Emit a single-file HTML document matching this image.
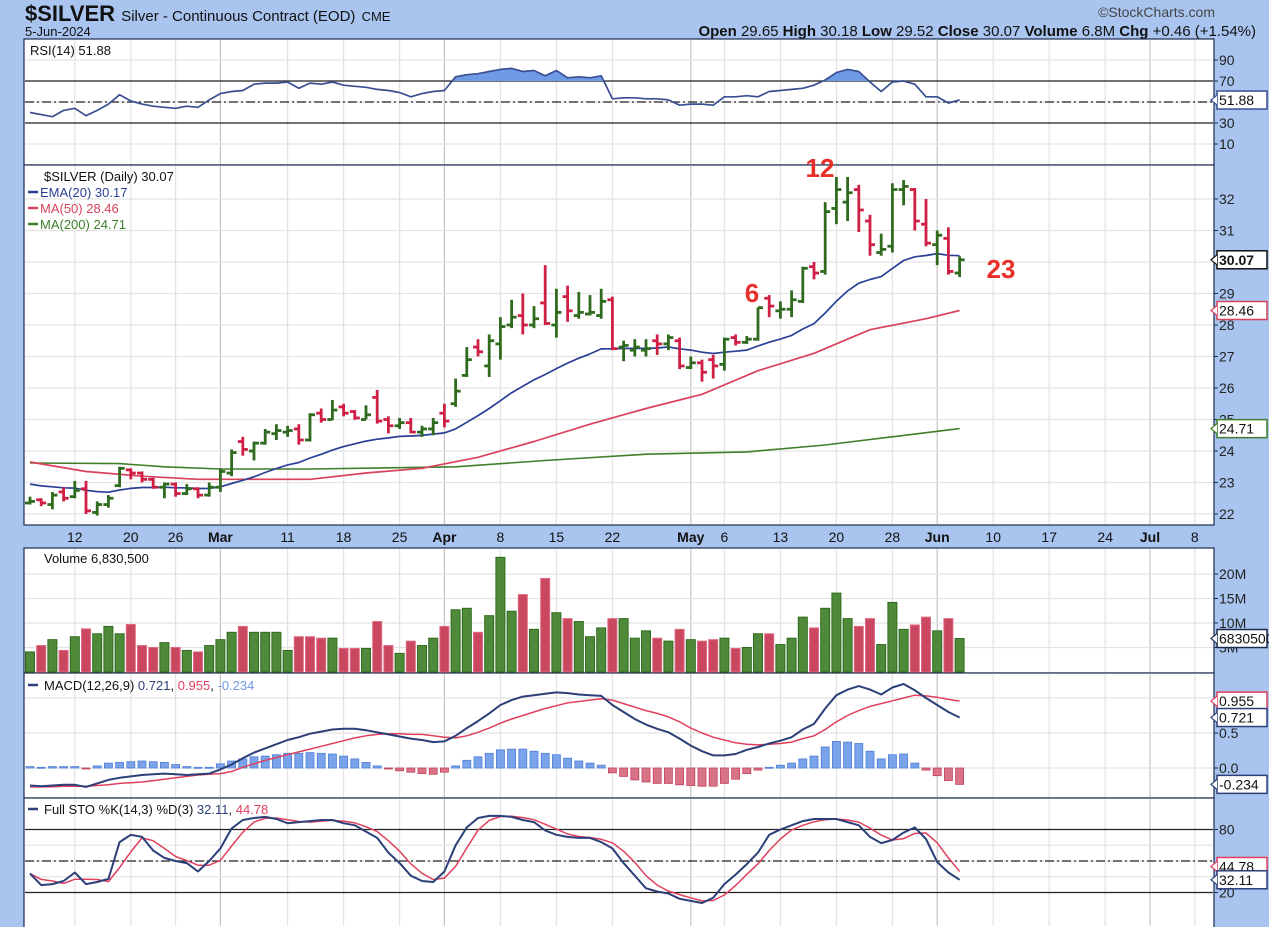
<!DOCTYPE html>
<html><head><meta charset="utf-8">
<style>
html,body{margin:0;padding:0;background:#a9c5ef;}
svg{display:block;font-family:"Liberation Sans",sans-serif;}
</style></head>
<body>
<svg id="chart" width="1269" height="927" viewBox="0 0 1269 927" xmlns="http://www.w3.org/2000/svg">
<rect x="0" y="0" width="1269" height="927" fill="#a9c5ef"/>
<text x="25" y="21" font-size="22" font-weight="bold" fill="#111">$SILVER <tspan font-size="15" font-weight="normal">Silver - Continuous Contract (EOD)</tspan> <tspan font-size="13" font-weight="normal">CME</tspan></text>
<text x="25" y="36" font-size="13" fill="#111">5-Jun-2024</text>
<text x="1215" y="17" font-size="14" fill="#444" text-anchor="end">©StockCharts.com</text>
<text x="1256" y="36" font-size="15" fill="#111" text-anchor="end"><tspan font-weight="bold">Open</tspan> 29.65  <tspan font-weight="bold">High</tspan> 30.18  <tspan font-weight="bold">Low</tspan> 29.52  <tspan font-weight="bold">Close</tspan> 30.07  <tspan font-weight="bold">Volume</tspan> 6.8M  <tspan font-weight="bold">Chg</tspan> +0.46 (+1.54%)</text>
<g id="panels"></g>
</svg>
<script>
// ---------- DATA ----------
const opens=[22.35,22.45,22.3,22.7,22.55,22.8,22.05,22.3,22.9,23.4,23.3,23.1,22.85,22.95,22.65,22.8,22.6,22.85,23.3,24.3,24.0,24.25,24.55,24.6,24.7,24.35,25.2,25.0,25.4,25.25,25.0,25.7,25.0,24.8,24.9,24.6,24.7,25.2,25.5,26.4,27.3,26.7,27.4,28.0,28.3,28.0,28.7,28.0,28.9,28.3,28.35,28.3,28.8,27.3,27.2,27.2,27.5,27.4,27.5,26.65,26.8,26.9,26.75,27.6,27.45,27.55,28.85,28.45,28.5,28.75,29.85,29.7,31.7,31.9,32.3,31.3,30.3,30.5,32.3,32.3,31.2,30.55,30.75,29.65];
const highs=[22.55,22.5,22.7,22.85,23.05,23.05,22.4,22.6,23.5,23.45,23.35,23.15,23.0,23.0,22.95,22.85,23.0,23.45,24.05,24.45,24.3,24.7,24.85,24.8,24.85,25.2,25.35,25.62,25.5,25.3,25.45,25.94,25.1,25.05,25.05,24.8,25.05,25.5,26.3,27.3,27.55,27.7,28.25,28.8,29.0,28.6,29.9,29.15,29.25,29.05,28.95,29.15,28.9,27.5,27.55,27.55,27.7,27.7,27.6,27.0,26.9,27.05,27.6,27.7,27.65,28.55,28.95,28.75,29.1,29.85,30.0,31.9,32.7,32.7,32.45,31.5,30.9,32.5,32.6,32.35,32.0,31.0,31.1,30.18];
const lows=[22.3,22.25,22.15,22.4,22.5,22.0,21.95,22.2,22.85,23.1,23.0,22.8,22.5,22.55,22.6,22.5,22.55,22.7,23.2,23.85,23.7,24.2,24.35,24.45,24.2,24.3,24.9,24.98,25.1,24.99,25.0,24.87,24.56,24.7,24.56,24.45,24.5,24.75,25.4,26.35,27.0,26.35,26.9,27.9,27.7,27.9,28.0,27.6,28.1,28.2,28.3,28.2,27.2,26.85,27.0,27.0,27.05,27.2,26.6,26.6,26.2,26.3,26.55,27.35,27.4,27.5,28.25,28.2,28.25,28.7,29.45,29.6,31.2,31.3,30.95,30.2,30.2,30.3,31.8,31.0,30.5,29.9,29.6,29.52];
const closes=[22.4,22.35,22.6,22.5,22.75,22.1,22.3,22.5,23.45,23.3,23.1,22.85,22.95,22.65,22.8,22.6,22.85,23.35,23.95,24.05,24.25,24.6,24.65,24.65,24.35,25.15,25.0,25.3,25.2,25.05,25.15,24.95,24.8,24.9,24.6,24.7,24.9,24.95,25.9,26.9,27.15,27.5,27.95,28.25,28.0,28.2,28.05,28.4,28.45,28.4,28.4,28.75,27.25,27.35,27.3,27.25,27.4,27.6,26.7,26.8,26.5,26.7,27.55,27.45,27.55,28.55,28.6,28.5,28.8,29.8,29.65,31.6,32.3,32.2,31.65,30.55,30.4,32.3,32.4,31.3,30.6,30.85,29.7,30.07];
const ma50Idx=[0,5,10,15,20,25,30,35,40,45,50,55,60,65,70,75,80,83];
const ma50Val=[23.65,23.35,23.2,23.1,23.1,23.1,23.3,23.45,23.8,24.3,24.85,25.35,25.8,26.55,27.1,27.85,28.2,28.46];
const ma200Idx=[0,8,12,17,25,38,46,55,64,71,77,83];
const ma200Val=[23.62,23.6,23.5,23.43,23.43,23.5,23.7,23.9,23.97,24.19,24.45,24.71];
const rsiVals=[40,38,36,42,44,37,42,48,57,51,48,46,45,44,46,45,52,58,60,61,67,68,68,69,63,68,67,69,66,65,64,62,61,59,55,58,60,61,74,76,77,79,81,82,79,80,75,80,73,74,73,75,53,54,54,53,53,52,47,48,48,47,55,55,56,55,60,61,62,63,66,71,78,81,79,69,60,69,70,67,55,55,49,51.88];
const volumes=[4.1,5.4,6.6,4.4,7.2,8.8,7.8,9.3,7.8,9.7,5.4,5.0,6.0,5.0,4.4,4.1,5.4,6.6,8.1,9.3,8.1,8.1,8.1,4.4,7.2,7.2,6.9,6.9,4.8,4.8,4.8,10.3,5.4,3.8,6.3,5.4,6.9,9.3,12.7,13.0,8.1,11.5,23.4,12.4,15.8,8.7,19.1,12.1,10.9,10.3,7.2,9.0,10.9,10.9,6.9,8.4,6.9,6.3,8.7,6.6,6.3,6.6,6.9,4.8,5.0,7.8,7.8,5.6,6.9,11.2,9.0,13.0,16.1,10.9,9.3,10.9,5.6,14.2,8.7,9.6,11.2,8.4,10.9,6.83];
const volUp=[1,0,1,0,1,0,1,1,1,0,0,0,1,0,1,0,1,1,1,0,1,1,1,1,0,0,0,1,0,0,1,0,0,1,0,1,1,0,1,1,0,1,1,1,0,1,0,1,0,1,1,1,0,1,1,1,0,1,0,1,0,0,1,0,1,1,0,1,1,1,0,1,1,1,0,0,1,1,1,0,0,1,0,1];
const macdVals=[-0.25,-0.26,-0.25,-0.24,-0.24,-0.27,-0.22,-0.17,-0.14,-0.12,-0.10,-0.09,-0.08,-0.09,-0.10,-0.09,-0.08,-0.02,0.05,0.14,0.22,0.28,0.34,0.40,0.44,0.49,0.52,0.55,0.56,0.56,0.54,0.51,0.48,0.45,0.42,0.40,0.37,0.38,0.46,0.57,0.67,0.78,0.90,0.97,1.02,1.04,1.06,1.08,1.07,1.05,1.04,1.03,0.90,0.80,0.70,0.62,0.56,0.51,0.42,0.32,0.24,0.18,0.18,0.20,0.26,0.30,0.35,0.39,0.44,0.55,0.63,0.85,1.04,1.12,1.17,1.12,1.05,1.15,1.20,1.11,1.00,0.90,0.80,0.721];
const signalVals=[-0.27,-0.27,-0.27,-0.26,-0.26,-0.26,-0.25,-0.24,-0.22,-0.21,-0.20,-0.18,-0.16,-0.14,-0.12,-0.10,-0.09,-0.08,-0.05,0.01,0.06,0.11,0.15,0.19,0.23,0.27,0.31,0.35,0.39,0.43,0.46,0.48,0.49,0.49,0.48,0.48,0.46,0.44,0.43,0.46,0.51,0.57,0.64,0.70,0.75,0.80,0.85,0.89,0.93,0.95,0.97,0.99,0.97,0.92,0.87,0.82,0.78,0.73,0.66,0.57,0.50,0.44,0.40,0.36,0.34,0.33,0.34,0.35,0.37,0.42,0.46,0.55,0.66,0.75,0.82,0.88,0.92,0.96,1.00,1.04,1.03,1.01,0.98,0.955];
const stoK=[38,27,28,31,39,28,30,33,68,75,73,60,53,50,48,40,50,62,81,89,91,92,90,86,87,88,89,89,86,84,78,72,58,48,36,31,30,40,65,82,91,93,93,92,89,87,79,75,73,72,72,68,62,48,36,24,21,19,14,12,10,15,28,37,47,58,75,80,84,88,90,90,90,87,84,73,67,70,77,82,71,49,39,32.11];
const dateLabels=["12","20","26","Mar","11","18","25","Apr","8","15","22","May","6","13","20","28","Jun","10","17","24","Jul","8"];
const dateLabelIdx=[4,9,13,17,23,28,33,37,42,47,52,59,62,67,72,77,81,86,91,96,100,104];
const priceTicks=[22,23,24,25,26,27,28,29,30,31,32];
const rsiTicks=[10,30,70,90];
const volTicks=[5,10,15,20];
const stoTicks=[20,80];

// ---------- SCALES ----------
const L=24,R=1214;
const xAt=i=>30+i*11.2;
const priceY=v=>199+(32-v)*31.5;
const rsiY=v=>102-(v-50)*1.05;
const volY=v=>672-v*4.9;
const macdY=v=>768-v*70;
const stoY=v=>861-(v-50)*1.05;

const NS="http://www.w3.org/2000/svg";
const root=document.getElementById('panels');
function mk(tag,attrs,parent){const e=document.createElementNS(NS,tag);for(const k in attrs)e.setAttribute(k,attrs[k]);(parent||root).appendChild(e);return e;}
function txt(x,y,s,attrs,parent){const t=mk('text',Object.assign({x:x,y:y},attrs||{}),parent);t.textContent=s;return t;}

const panels=[{t:39,b:165,n:'rsi-panel'},{t:165,b:525,n:'price-panel'},{t:548,b:673,n:'volume-panel'},{t:673,b:798,n:'macd-panel'},{t:798,b:940,n:'stochastic-panel'}];
panels.forEach(p=>{
  const r=mk('rect',{x:L,y:p.t,width:R-L,height:p.b-p.t,fill:'#fff',stroke:'#1d2b4f','stroke-width':1.2});
  
  
});
panels.forEach(p=>{
  dateLabelIdx.forEach((i,k)=>{
    const isMonth=/^[A-Z]/.test(dateLabels[k]);
    const g=mk('line',{x1:xAt(i),x2:xAt(i),y1:p.t+1,y2:Math.min(p.b,927)-1,stroke:isMonth?'#c4c4c4':'#e2e2e2','stroke-width':1.2});
    
    
  });
});
function hgrid(y){const g=mk('line',{x1:L+1,x2:R-1,y1:y,y2:y,stroke:'#e4e4e4','stroke-width':1.2});}
function axisLabel(y,s,name){const t=txt(1219,y+5,s,{'font-size':14,fill:'#222'});mk('line',{x1:R,x2:R+4,y1:y,y2:y,stroke:'#1d2b4f'});}
function valueBox(y,s,col,name,bold){
  const g=mk('g',{});
  
  
  mk('rect',{x:1217,y:y-9,width:50,height:18,fill:'#fff',stroke:col,'stroke-width':1.5},g);
  mk('path',{d:`M1217 ${y-5} L1211 ${y} L1217 ${y+5}`,fill:'#fff',stroke:col,'stroke-width':1.2},g);
  txt(1219,y+5,s,{'font-size':14,fill:'#111','font-weight':bold?'bold':'normal'},g);
}
function hline(y,dash,name){const l=mk('line',{x1:L+1,x2:R-1,y1:y,y2:y,stroke:'#222','stroke-width':1.3});if(dash)l.setAttribute('stroke-dasharray','9,3,2,3');}
function poly(vals,idxs,xf,yf,col,w,name){
  const pts=vals.map((v,k)=>xf(idxs?idxs[k]:k).toFixed(1)+','+yf(v).toFixed(1)).join(' ');
  const p=mk('polyline',{points:pts,fill:'none',stroke:col,'stroke-width':w,'stroke-linejoin':'round'});
  
  
  return p;
}

// ---------- RSI ----------
[50].concat(rsiTicks).forEach(v=>hgrid(rsiY(v)));
hline(rsiY(70),false,'rsi-70-line');hline(rsiY(30),false,'rsi-30-line');hline(rsiY(50),true,'rsi-50-line');
{
  const cp=mk('clipPath',{id:'rsiClip'});
  mk('rect',{x:L,y:39,width:R-L,height:rsiY(70)-39},cp);
  let d='M'+xAt(0)+','+rsiY(70);
  rsiVals.forEach((v,i)=>d+=' L'+xAt(i).toFixed(1)+','+rsiY(v).toFixed(1));
  d+=' L'+xAt(rsiVals.length-1)+','+rsiY(70)+' Z';
  const f=mk('path',{d:d,fill:'#6f9be6','clip-path':'url(#rsiClip)'});
  
  
}
poly(rsiVals,null,xAt,rsiY,'#3a4f92',1.7,'rsi-line');
rsiTicks.forEach(v=>axisLabel(rsiY(v),String(v),'rsi-axis-label'));
valueBox(rsiY(51.88),'51.88','#3a4f92','rsi-value-box');
{const t=txt(30,55,'RSI(14) 51.88',{'font-size':13,fill:'#111'});}

// ---------- PRICE ----------
priceTicks.forEach(v=>hgrid(priceY(v)));
priceTicks.forEach(v=>axisLabel(priceY(v),String(v),'price-axis-label'));
const ema=[];{const k=2/21;let e=22.95;closes.forEach((c,i)=>{e=i===0?e:(c*k+e*(1-k));ema.push(e);});}
poly(ma200Val,ma200Idx,xAt,priceY,'#3e7f2a',1.6,'ma200-line');
poly(ma50Val,ma50Idx,xAt,priceY,'#d9415c',1.7,'ma50-line');
poly(ema,null,xAt,priceY,'#2c3f96',1.7,'ema20-line');
closes.forEach((c,i)=>{
  const up=c>=opens[i];const col=up?'#2f6b1f':'#cf1f44';const x=xAt(i);
  const g=mk('g',{stroke:col,'stroke-width':2.8});
  
  
  mk('line',{x1:x,x2:x,y1:priceY(highs[i]),y2:priceY(lows[i])},g);
  mk('line',{x1:x-5,x2:x,y1:priceY(opens[i]),y2:priceY(opens[i])},g);
  mk('line',{x1:x,x2:x+5,y1:priceY(closes[i]),y2:priceY(closes[i])},g);
});
valueBox(priceY(30.07),'30.07','#111','last-price-box',true);
valueBox(priceY(28.46),'28.46','#d9415c','ma50-value-box');
valueBox(priceY(24.71),'24.71','#3e7f2a','ma200-value-box');
[['$SILVER (Daily) 30.07','#111',181,'price-legend'],['EMA(20) 30.17','#2c3f96',197,'ema20-legend'],['MA(50) 28.46','#d9415c',213,'ma50-legend'],['MA(200) 24.71','#3e7f2a',229,'ma200-legend']].forEach(([s,c,y,n],k)=>{
  const t=txt(k===0?44:40,y,s,{'font-size':13,fill:c});
  if(k>0)mk('line',{x1:28,x2:38,y1:y-5,y2:y-5,stroke:c,'stroke-width':2.5});
});
[['12',820,177,'wave-label-12'],['6',752,302,'wave-label-6'],['23',1001,278,'wave-label-23']].forEach(([s,x,y,n])=>{const t=txt(x,y,s,{'font-size':26,'font-weight':'bold',fill:'#e8302a','text-anchor':'middle'});});

dateLabels.forEach((s,k)=>{
  const isMonth=/^[A-Z]/.test(s);
  const t=txt(xAt(dateLabelIdx[k]),542,s,{'font-size':14,fill:'#111','text-anchor':'middle','font-weight':isMonth?'bold':'normal'});
  
  
});

// ---------- VOLUME ----------
volTicks.forEach(v=>hgrid(volY(v)));
volumes.forEach((v,i)=>{
  const up=volUp[i];const x=xAt(i);
  const b=mk('rect',{x:x-4.5,y:volY(v),width:9,height:672-volY(v),fill:up?'#4f8a3a':'#c9475f',stroke:up?'#2f6b1f':'#e06a84','stroke-width':1});
  
  
});
volTicks.forEach(v=>axisLabel(volY(v),v+'M','volume-axis-label'));
valueBox(volY(6.83),'6830500','#1d2b4f','volume-value-box');
{const t=txt(44,563,'Volume 6,830,500',{'font-size':13,fill:'#111'});}

// ---------- MACD ----------
[0,0.5,1.0].forEach(v=>hgrid(macdY(v)));
macdVals.forEach((m,i)=>{
  const h=m-signalVals[i];const x=xAt(i);const y0=macdY(0),y1=macdY(h);
  const b=mk('rect',{x:x-4,y:Math.min(y0,y1),width:8,height:Math.max(1,Math.abs(y1-y0)),fill:h>=0?'#7aa3ea':'#d97388',stroke:h>=0?'#4f7fd6':'#c2415e','stroke-width':0.8});
  
  
});
poly(signalVals,null,xAt,macdY,'#e0405e',1.5,'macd-signal-line');
poly(macdVals,null,xAt,macdY,'#2c3f78',2,'macd-line');
axisLabel(macdY(0.5),'0.5','macd-axis-label');axisLabel(macdY(0),'0.0','macd-axis-label');
valueBox(macdY(0.955),'0.955','#e0405e','macd-signal-box');
valueBox(macdY(0.721),'0.721','#2c3f78','macd-value-box');
valueBox(macdY(-0.234),'-0.234','#2c3f78','macd-histogram-box');
{const t=txt(44,690,'',{'font-size':13,fill:'#111'});
 t.innerHTML='MACD(12,26,9) <tspan fill="#2c3f78">0.721</tspan>, <tspan fill="#e0405e">0.955</tspan>, <tspan fill="#6f9be6">-0.234</tspan>';
 mk('line',{x1:28,x2:38,y1:685,y2:685,stroke:'#2c3f78','stroke-width':2.5});}

// ---------- STOCHASTIC ----------
[35,50,65].forEach(v=>hgrid(stoY(v)));
hline(stoY(80),false,'sto-80-line');hline(stoY(20),false,'sto-20-line');hline(stoY(50),true,'sto-50-line');
const stoD=stoK.map((v,i)=>{const a=stoK.slice(Math.max(0,i-2),i+1);return a.reduce((s,x)=>s+x,0)/a.length;});
poly(stoD,null,xAt,stoY,'#e0405e',1.5,'sto-d-line');
poly(stoK,null,xAt,stoY,'#2c3f78',2,'sto-k-line');
stoTicks.forEach(v=>axisLabel(stoY(v),String(v),'sto-axis-label'));
valueBox(stoY(44.78),'44.78','#e0405e','sto-d-box');
valueBox(stoY(32.11),'32.11','#2c3f78','sto-k-box');
{const t=txt(44,814,'',{'font-size':13,fill:'#111'});
 t.innerHTML='Full STO %K(14,3) %D(3) <tspan fill="#2c3f78">32.11</tspan>, <tspan fill="#e0405e">44.78</tspan>';
 mk('line',{x1:28,x2:38,y1:809,y2:809,stroke:'#2c3f78','stroke-width':2.5});}
</script>
</body></html>
